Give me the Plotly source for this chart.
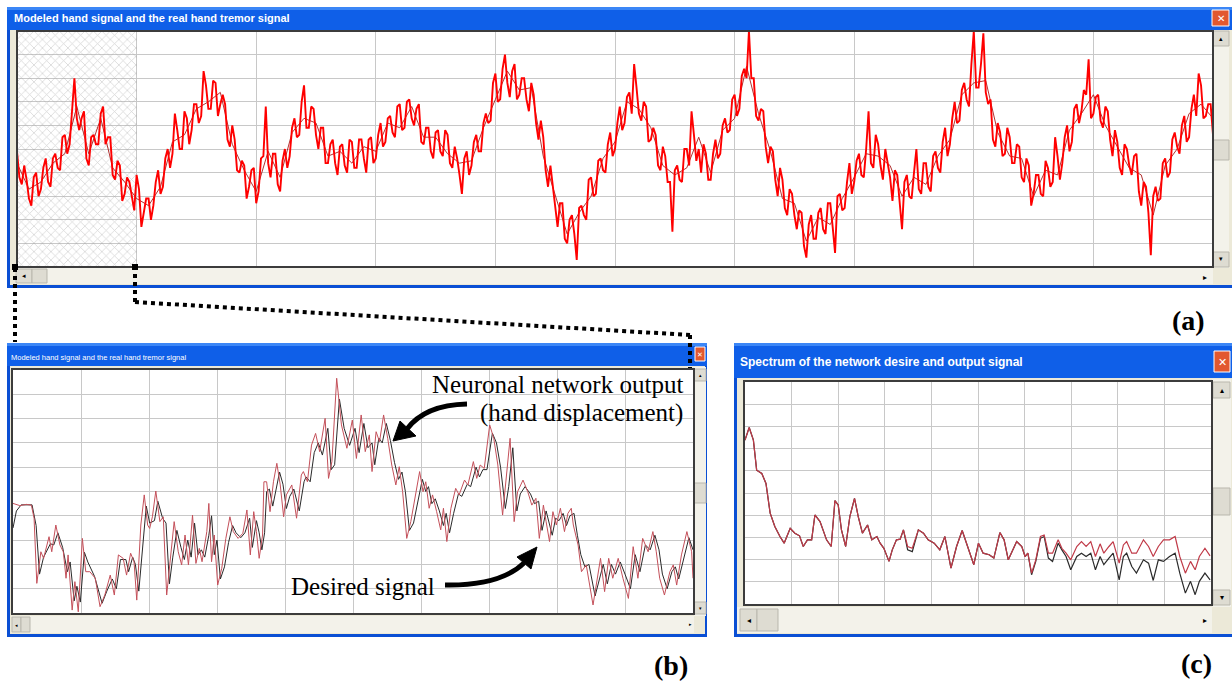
import numpy as np
import plotly.graph_objects as go

W, H = 1232, 683

# ---------------- data (grid units 0..10 on every panel) ----------------
# (a) long record: modeled hand signal (red), samples at 0, 0.04, 0.08, ...
TOP_STEP = 0.04
TOP_RED = [
    4.9,3.5,3.7,2.6,4.0,3.3,4.6,3.4,4.8,4.1,5.6,5.2,8.0,5.8,6.6,4.3,5.6,5.2,6.8,5.5,3.9,4.5,2.8,3.8,2.9,
    3.9,1.7,2.9,2.0,3.6,3.1,4.6,4.2,6.5,5.0,6.6,5.2,6.9,6.1,8.3,6.7,7.9,6.4,7.3,5.4,6.0,4.1,4.5,2.9,4.1,
    2.7,4.6,6.8,3.8,4.8,3.2,5.0,4.7,6.3,5.6,7.7,5.9,6.7,5.0,5.9,4.4,5.4,3.9,5.2,4.0,5.3,4.2,5.4,4.0,5.5,
    4.6,6.1,5.3,6.4,5.5,6.9,5.9,7.1,6.0,6.9,5.2,5.9,4.6,5.8,4.7,5.6,4.2,4.6,3.1,4.9,4.3,5.6,4.9,6.5,6.2,
    8.2,7.1,9.0,7.2,8.6,7.3,8.0,6.6,7.3,5.4,5.5,3.4,3.5,1.7,2.7,1.0,2.2,0.3,2.6,2.0,3.8,3.1,4.6,4.0,5.7,
    5.0,6.8,6.1,7.4,8.6,6.5,7.0,5.3,5.9,4.3,5.1,3.6,1.5,4.3,3.6,5.0,6.6,4.5,4.0,4.8,3.7,5.4,4.8,6.3,5.8,
    7.3,6.7,8.4,10.0,8.0,6.2,6.6,4.4,4.9,3.0,3.7,2.2,3.1,1.6,2.3,0.4,2.2,1.2,2.5,1.4,2.7,0.6,3.1,2.5,4.4,
    3.6,4.8,3.8,6.6,4.2,5.2,3.7,4.4,2.8,3.9,1.6,3.9,2.9,5.0,3.1,4.4,3.2,4.9,4.0,5.9,5.2,7.0,6.2,7.8,6.8,
    10.0,7.6,9.9,6.9,5.4,6.1,4.7,5.9,4.4,5.2,3.8,4.6,2.6,3.9,3.1,4.5,3.4,5.5,3.7,5.5,4.9,6.7,6.1,7.5,8.8,
    6.5,7.3,5.9,6.6,4.7,5.3,3.9,5.0,3.9,4.8,2.6,3.4,0.5,3.4,2.9,4.6,4.0,5.7,4.8,6.4,5.5,7.3,8.2,6.3,6.9,
    5.6,
]
# (a) modeled hand signal, in-between samples at 0.02, 0.06, 0.10, ...
TOP_RED_MID = [
    3.8,4.3,2.9,3.8,3.0,4.2,3.6,4.6,4.2,5.5,4.8,6.5,6.3,6.3,4.6,5.5,5.2,6.5,5.2,5.5,3.7,4.3,3.1,3.6,2.4,
    3.3,2.3,2.9,2.6,4.1,3.4,5.0,4.8,5.8,5.0,6.3,5.8,6.9,6.4,7.7,6.7,7.8,6.9,6.9,5.1,5.4,4.0,4.3,3.4,4.2,
    3.2,4.7,4.4,4.8,3.5,4.5,4.2,5.9,5.5,7.0,5.9,6.8,5.6,5.9,4.4,5.2,4.4,5.1,4.3,5.4,4.2,5.4,4.6,5.4,4.4,
    5.6,5.1,6.3,5.7,6.8,5.8,7.0,6.3,6.7,5.3,5.9,4.9,5.7,4.9,5.8,4.4,5.1,3.9,4.6,3.9,5.3,4.9,6.1,6.1,7.8,
    7.0,8.4,7.8,8.3,7.1,8.0,7.1,7.8,6.1,6.2,4.1,4.3,2.6,2.7,1.2,2.0,1.4,2.5,2.2,3.7,3.0,4.5,4.1,5.2,4.7,
    6.1,5.8,7.2,6.5,7.6,6.2,6.8,5.4,5.6,4.1,4.7,3.6,4.1,3.7,5.0,4.3,5.6,5.0,5.2,3.7,4.8,4.6,6.0,5.7,7.1,
    6.4,8.1,8.0,8.0,6.4,6.7,5.1,5.1,3.7,4.2,2.5,3.3,2.2,2.4,0.9,1.8,1.2,2.3,1.6,2.7,1.7,3.0,2.4,3.6,3.1,
    4.5,3.9,5.0,4.4,5.6,4.3,5.0,3.8,4.1,2.7,3.6,3.0,4.0,3.3,4.4,3.4,4.7,4.2,5.3,4.7,6.3,6.1,7.5,7.1,8.6,
    7.6,8.6,7.4,7.1,5.1,5.7,4.8,5.5,4.4,5.1,3.6,4.3,3.1,3.9,3.0,4.2,3.6,4.7,4.4,6.0,5.3,6.9,6.6,7.3,6.3,
    7.2,6.2,6.8,5.4,5.8,4.2,5.2,4.3,4.7,3.2,3.6,2.3,3.0,2.8,4.4,3.8,5.4,5.1,6.0,5.3,6.7,6.4,7.7,6.4,6.9,
]
# (a) real hand tremor signal (dark red) sampled every 0.1 grid units
DARK_STEP = 0.1
TOP_DARK = [
    4.4,3.3,3.6,4.4,4.8,6.8,4.8,6.3,4.2,3.6,
    2.9,2.6,3.4,5.3,5.6,6.7,7.0,7.4,5.2,4.1,
    3.2,4.9,3.8,5.7,6.3,6.1,4.7,4.9,4.4,5.1,
    4.9,6.1,5.9,6.8,5.5,5.5,4.8,4.4,4.5,5.9,
    7.1,8.3,7.5,7.6,4.7,3.1,1.4,2.3,3.0,4.6,
    5.3,7.0,6.7,5.9,4.3,3.9,4.2,5.5,4.0,5.8,
    6.3,8.5,6.5,4.9,2.9,2.7,1.1,2.1,1.8,2.9,
    3.8,4.8,4.7,4.3,3.0,3.8,3.5,4.7,5.4,7.3,
    7.8,7.9,5.7,4.7,4.6,3.0,4.1,3.9,5.8,6.5,
    7.3,6.0,5.1,4.2,3.9,2.2,4.3,5.0,6.5,6.9,
    6.3,
]
HATCH_SPAN = [0.0, 1.0]

# (b) zoom: neuronal network output (red) and desired signal (black)
B_OUT_X = [0.00,0.10,0.20,0.27,0.31,0.35,0.41,0.45,0.53,0.57,0.63,0.69,0.74,0.78,0.81,0.87,0.91,0.96,
           1.02,1.07,1.13,1.21,1.28,1.35,1.43,1.49,1.55,1.62,1.67,1.73,1.78,1.82,1.88,1.93,1.98,
           2.01,2.05,2.10,2.16,2.21,2.26,2.31,2.37,2.43,2.48,2.53,2.58,2.64,2.69,2.74,2.78,2.85,2.88,2.92,2.96,
           3.01,3.07,3.13,3.19,3.24,3.31,3.38,3.44,3.49,3.54,3.58,3.62,3.67,3.69,3.73,3.78,3.83,3.88,3.93,3.98,
           4.02,4.10,4.17,4.24,4.27,4.33,4.39,4.45,4.51,4.59,4.64,4.69,4.76,4.83,4.91,4.99,
           5.05,5.12,5.18,5.24,5.28,5.34,5.39,5.45,5.51,5.57,5.63,5.68,5.73,5.79,5.85,5.93,5.98,
           6.03,6.07,6.12,6.17,6.23,6.29,6.33,6.38,6.44,6.51,6.56,6.64,6.69,6.77,6.82,6.87,6.93,
           7.01,7.07,7.13,7.20,7.25,7.31,7.37,7.42,7.50,7.57,7.63,7.69,7.74,7.80,7.84,7.89,7.94,7.99,
           8.05,8.11,8.16,8.21,8.24,8.31,8.36,8.43,8.53,8.58,8.64,8.70,8.76,8.82,8.90,8.97,
           9.05,9.12,9.19,9.26,9.34,9.41,9.46,9.51,9.58,9.66,9.71,9.76,9.83,9.91,9.98,10.0]
B_OUT_Y = [4.51,4.42,4.47,4.44,3.90,1.22,2.52,2.25,3.14,2.52,3.62,2.80,2.52,1.43,2.39,0.12,1.29,0.05,
           3.07,1.70,1.70,1.43,0.26,0.74,1.56,0.74,2.39,2.25,1.56,2.46,2.11,0.53,3.62,4.86,3.62,
           3.48,3.96,5.02,3.76,3.96,0.74,2.25,3.76,2.52,1.98,3.21,1.98,4.03,2.04,2.66,2.11,3.35,4.51,2.11,3.21,
           1.15,1.84,3.07,3.96,3.35,3.07,3.28,4.24,2.39,4.17,3.35,2.25,3.21,5.40,5.40,4.17,5.40,6.16,5.27,3.96,
           4.86,5.27,3.90,5.68,5.82,5.40,6.91,7.39,6.64,8.01,5.54,6.23,9.66,7.74,6.78,7.94,
           6.36,8.15,6.64,7.33,5.82,7.46,7.05,8.15,7.19,6.09,5.27,6.02,4.99,3.07,3.76,4.99,5.82,
           4.99,5.40,4.31,4.86,4.17,3.42,4.31,2.94,4.31,5.13,4.86,5.47,5.27,6.23,5.54,6.09,5.95,
           7.74,7.19,6.09,4.03,5.40,7.19,3.76,4.99,5.47,4.99,4.44,4.72,3.07,4.44,3.76,2.94,4.17,3.62,
           4.31,3.35,4.10,4.31,3.62,2.80,1.70,1.98,0.33,1.15,2.25,0.88,2.25,1.43,2.25,1.43,
           0.60,2.73,1.43,3.07,2.52,3.35,2.52,1.43,0.74,1.70,1.98,1.15,2.39,3.35,2.52,1.43]
B_DES_X = [0.00,0.05,0.12,0.28,0.34,0.39,0.45,0.55,0.60,0.66,0.73,0.80,0.84,0.90,0.94,0.99,
           1.05,1.10,1.20,1.31,1.38,1.46,1.52,1.58,1.66,1.70,1.76,1.80,1.85,1.92,1.96,
           2.01,2.08,2.13,2.20,2.25,2.30,2.35,2.41,2.47,2.52,2.57,2.62,2.67,2.72,2.77,2.82,2.88,2.92,2.96,
           3.00,3.05,3.11,3.17,3.23,3.28,3.35,3.41,3.48,3.52,3.58,3.62,3.66,3.70,3.73,3.77,3.82,3.87,3.92,3.97,
           4.02,4.07,4.13,4.21,4.28,4.31,4.37,4.43,4.49,4.55,4.63,4.68,4.73,4.80,4.87,4.95,
           5.03,5.09,5.16,5.22,5.28,5.32,5.38,5.43,5.49,5.55,5.61,5.67,5.72,5.77,5.83,5.89,5.97,
           6.02,6.07,6.11,6.16,6.21,6.27,6.33,6.37,6.42,6.48,6.55,6.60,6.68,6.73,6.81,6.86,6.91,6.97,
           7.05,7.11,7.17,7.24,7.29,7.35,7.41,7.46,7.53,7.61,7.67,7.73,7.78,7.84,7.88,7.93,7.98,
           8.03,8.09,8.14,8.19,8.25,8.30,8.35,8.41,8.47,8.56,8.62,8.68,8.74,8.80,8.86,8.93,
           9.00,9.08,9.15,9.22,9.30,9.37,9.44,9.50,9.55,9.62,9.69,9.74,9.79,9.86,9.94,10.0]
B_DES_Y = [3.50,4.20,4.45,4.45,3.60,1.60,2.30,2.85,2.80,3.30,2.70,1.70,2.10,0.50,1.10,0.45,
           2.50,2.10,1.50,0.40,0.90,1.40,1.00,2.20,2.20,1.70,2.30,2.00,0.90,3.30,4.40,
           3.70,3.80,4.60,3.90,3.70,1.20,2.30,3.40,2.70,2.20,3.00,2.30,3.70,2.40,2.60,2.30,3.20,4.00,2.40,
           3.00,1.40,1.90,2.90,3.60,3.30,3.10,3.30,3.90,2.70,3.80,3.30,2.60,3.30,5.00,5.10,4.40,5.10,5.80,5.30,
           4.30,4.80,5.10,4.20,5.40,5.60,5.40,6.60,7.00,6.50,7.60,5.90,6.10,8.80,7.60,6.90,
           7.60,6.60,7.80,6.80,7.00,6.10,7.20,7.00,7.80,7.10,6.20,5.50,5.80,5.00,3.40,3.70,4.90,
           5.50,5.00,5.20,4.50,4.70,4.20,3.60,4.10,3.30,4.10,4.90,4.80,5.30,5.20,6.00,5.60,5.90,5.90,
           7.40,7.00,6.00,4.30,5.20,6.80,4.20,4.90,5.20,4.90,4.50,4.60,3.40,4.20,3.70,3.20,3.90,
           3.80,4.10,3.60,4.00,4.10,3.20,2.40,1.90,2.00,0.70,1.30,2.00,1.20,2.00,1.60,2.10,
           1.60,1.00,2.40,1.70,2.80,2.60,3.20,2.60,1.60,1.00,1.70,1.90,1.40,2.20,3.10,2.60]

# (c) spectrum of the desired (black) and output (red) signals
C_X = [0.00,0.09,0.18,0.25,0.36,0.45,0.54,0.64,0.75,0.84,0.97,1.07,1.17,1.25,1.34,1.43,1.50,1.61,1.75,1.85,
       1.93,2.00,2.07,2.16,2.25,2.35,2.43,2.52,2.63,2.72,2.83,2.90,2.98,3.09,3.16,3.25,3.33,3.40,3.49,3.59,
       3.72,3.83,3.93,4.06,4.18,4.29,4.42,4.54,4.66,4.77,4.91,5.01,5.11,5.24,5.34,5.47,5.56,5.65,5.74,5.83,
       5.94,6.01,6.07,6.15,6.24,6.34,6.42,6.51,6.60,6.72,6.80,6.89,6.99,7.12,7.22,7.32,7.42,7.52,7.62,7.70,
       7.81,7.90,8.03,8.12,8.19,8.30,8.40,8.55,8.66,8.76,8.87,8.98,9.11,9.23,9.33,9.45,9.56,9.66,9.75,9.87,9.98]
C_OUT_Y = [7.38,7.95,7.38,6.03,5.88,5.43,4.09,3.49,3.04,2.74,3.41,3.19,3.07,2.59,2.89,2.89,4.01,3.71,2.89,2.59,
           4.66,4.46,3.34,2.59,3.94,4.76,3.94,3.19,3.56,2.89,3.04,2.74,2.51,1.92,2.44,2.89,2.92,3.34,2.59,2.51,
           3.34,3.19,2.89,2.74,2.44,3.04,1.62,2.59,3.31,2.59,1.77,2.74,2.29,2.22,2.07,3.22,2.89,1.99,2.44,2.81,
           2.59,2.14,2.29,1.39,1.99,3.04,3.11,2.29,2.29,2.89,2.51,2.29,1.99,2.59,2.81,2.59,2.81,2.14,2.71,2.29,
           2.59,2.81,1.84,2.66,2.81,2.29,2.29,2.89,2.59,2.14,2.59,2.89,2.89,3.04,2.14,1.39,1.92,1.54,2.14,2.51,2.17]
C_DES_Y = [7.38,7.95,7.38,6.03,5.88,5.43,4.09,3.49,3.04,2.74,3.41,3.19,3.07,2.59,2.89,2.89,4.01,3.71,2.89,2.59,
           4.66,4.46,3.34,2.59,3.94,4.76,3.94,3.19,3.56,2.89,3.04,2.74,2.51,1.92,2.44,2.89,2.92,3.34,2.44,2.36,
           3.34,3.19,2.89,2.74,2.44,3.04,1.62,2.59,3.31,2.59,1.77,2.74,2.29,2.22,2.07,3.22,2.89,1.99,2.44,2.81,
           2.59,2.14,2.29,1.32,1.92,2.96,3.04,2.07,1.92,2.74,2.44,2.14,1.54,2.14,2.29,2.14,2.29,1.54,2.14,1.77,
           2.07,2.29,1.09,2.14,2.29,1.69,1.39,1.99,1.84,1.06,1.99,1.92,2.14,2.29,1.39,0.49,1.02,0.42,1.02,1.39,1.09]

# ---------------- helpers (pixel -> paper) ----------------
def X(px):
    return px / W

def Y(py):
    return 1 - py / H

shapes = []
annotations = []

def rect(x0, y0, x1, y1, fill, line=None, lw=0, layer="below"):
    shapes.append(dict(type="rect", xref="paper", yref="paper",
                       x0=X(x0), x1=X(x1), y0=Y(y1), y1=Y(y0),
                       fillcolor=fill,
                       line=dict(color=line or fill, width=lw),
                       layer=layer))

def line(x0, y0, x1, y1, color, width, dash=None, layer="above"):
    d = dict(type="line", xref="paper", yref="paper",
             x0=X(x0), x1=X(x1), y0=Y(y0), y1=Y(y1),
             line=dict(color=color, width=width), layer=layer)
    if dash:
        d["line"]["dash"] = dash
    shapes.append(d)

def text(s, x, y, size, color="black", family="Liberation Sans", xanchor="left",
         bold=False):
    annotations.append(dict(text=("<b>%s</b>" % s) if bold else s,
                            x=X(x), y=Y(y), xref="paper", yref="paper",
                            xanchor=xanchor, yanchor="middle", showarrow=False,
                            font=dict(size=size, color=color, family=family)))

def path(points_str, color, width, fill=None):
    shapes.append(dict(type="path", xref="paper", yref="paper", path=points_str,
                       line=dict(color=color, width=width),
                       fillcolor=fill if fill else "rgba(0,0,0,0)", layer="above"))

def pp(x, y):
    return "%.5f,%.5f" % (X(x), Y(y))

FRAME = "#0a4fd4"
TITLE = "#0f5fe8"
TITLE_HI = "#3b86f6"
BODY = "#ece9d8"
TRACK = "#f3f2ea"
BTN = "#dedcd2"
BTN_LINE = "#b9b7ad"

def window(x0, y0, x1, y1, title_h):
    rect(x0, y0, x1, y1, FRAME)
    rect(x0 + 3, y0 + title_h, x1 - 2, y1 - 3, BODY)
    rect(x0, y0, x1, y0 + title_h, TITLE)
    rect(x0, y0, x1, y0 + 3, TITLE_HI)

def closebtn(x0, y0, x1, y1, size):
    rect(x0, y0, x1, y1, "#e2582f", "#ffffff", 1, layer="above")
    text("\u2715", (x0 + x1) / 2, (y0 + y1) / 2 + 0.5, size, "white", "DejaVu Sans", "center")

def arrowbtn(x0, y0, x1, y1, glyph, size=7):
    rect(x0, y0, x1, y1, BTN, BTN_LINE, 1, layer="above")
    text(glyph, (x0 + x1) / 2, (y0 + y1) / 2, size, "black", "DejaVu Sans", "center")

PLOT_A = (17, 31, 1213, 267)
PLOT_B = (12, 369, 694, 614)
PLOT_C = (744, 381, 1212, 605)

# ---------------- window (a) ----------------
window(7, 7, 1234, 288, 23)
text("Modeled hand signal and the real hand tremor signal", 12, 18, 11, "white", bold=True)
closebtn(1212, 10, 1229, 26, 10)
rect(15, 268, 1213, 284, TRACK, layer="below")
arrowbtn(16, 269, 32, 283, "\u25c2")
rect(32, 269, 47, 283, BTN, BTN_LINE, 1, layer="above")
text("\u25b8", 1205, 277, 8, "black", "DejaVu Sans", "center")
rect(1213, 30, 1229, 268, TRACK, layer="below")
arrowbtn(1213, 31, 1229, 46, "\u25b4")
rect(1213, 140, 1229, 160, BTN, BTN_LINE, 1, layer="above")
arrowbtn(1213, 252, 1229, 267, "\u25be")

# ---------------- window (b) ----------------
window(7, 343, 707, 637, 23)
text("Modeled hand signal and the real hand tremor signal", 9, 357, 7.5, "white")
closebtn(695, 347, 705, 361, 7)
rect(12, 616, 694, 633, TRACK)
arrowbtn(12, 617, 21, 632, "\u25c2", 5)
rect(21, 617, 30, 632, BTN, BTN_LINE, 1, layer="above")
text("\u25b8", 690, 624, 5, "black", "DejaVu Sans", "center")
rect(694, 367, 706, 616, TRACK)
arrowbtn(694, 369, 706, 381, "\u25b4", 5)
rect(694, 483, 706, 503, BTN, BTN_LINE, 1, layer="above")
arrowbtn(694, 602, 706, 614, "\u25be", 5)

# ---------------- window (c) ----------------
window(734, 343, 1234, 637, 35)
text("Spectrum of the network desire and output signal", 738, 362, 12, "white", bold=True)
closebtn(1214, 351, 1230, 372, 11)
rect(737, 607, 1212, 633, TRACK)
arrowbtn(740, 609, 757, 631, "\u25c2", 8)
rect(757, 609, 778, 631, BTN, BTN_LINE, 1, layer="above")
text("\u25b8", 1205, 620, 8, "black", "DejaVu Sans", "center")
rect(1212, 379, 1231, 607, TRACK)
arrowbtn(1213, 382, 1230, 398, "\u25b4", 8)
rect(1213, 488, 1230, 515, BTN, BTN_LINE, 1, layer="above")
arrowbtn(1213, 590, 1230, 605, "\u25be", 8)

# white plot areas + sunken frames
for (x0, y0, x1, y1) in [PLOT_A, PLOT_B, PLOT_C]:
    rect(x0, y0, x1, y1, "white", layer="below")
    rect(x0, y0, x1, y1, "rgba(0,0,0,0)", "#3c3c3c", 2, layer="above")

# ---------------- dotted connectors ----------------
DOT = "4px,4px"
line(15, 268, 15, 342, "black", 4, DOT)
line(135, 266, 135, 302, "black", 4, DOT)
line(135, 302, 690, 335, "black", 4, DOT)
line(690, 335, 690, 368, "black", 4, DOT)
for (cx, cy) in [(15, 267), (135, 267)]:
    rect(cx - 3, cy - 3, cx + 3, cy + 3, "black", layer="above")

# ---------------- annotation arrows & labels in (b) ----------------
path("M " + pp(467, 404) + " Q " + pp(425, 405) + " " + pp(407, 429), "black", 5)
path("M " + pp(393, 441) + " L " + pp(400, 421) + " L " + pp(416, 436) + " Z", "black", 1, "black")
path("M " + pp(445, 585) + " Q " + pp(500, 586) + " " + pp(524, 563), "black", 5)
path("M " + pp(537, 547) + " L " + pp(517, 557) + " L " + pp(531, 569) + " Z", "black", 1, "black")

SERIF = "Liberation Serif"
text("Neuronal network output", 685, 384, 25, "black", SERIF, "right")
text("(hand displacement)", 685, 413, 25, "black", SERIF, "right")
text("Desired signal", 289, 586, 25, "black", SERIF, "left")
text("(a)", 1188, 320, 28, "black", SERIF, "center", bold=True)
text("(b)", 671, 665, 28, "black", SERIF, "center", bold=True)
text("(c)", 1196, 663, 28, "black", SERIF, "center", bold=True)

# ---------------- figure ----------------
fig = go.Figure()

xa = np.arange(len(TOP_RED)) * TOP_STEP
xb = np.arange(len(TOP_RED_MID)) * TOP_STEP + TOP_STEP / 2
order = np.argsort(np.concatenate([xa, xb]), kind="stable")
red_x = np.concatenate([xa, xb])[order]
red_y = np.concatenate([np.array(TOP_RED), np.array(TOP_RED_MID)])[order]
dark_x = np.arange(len(TOP_DARK)) * DARK_STEP

fig.add_trace(go.Bar(x=[(HATCH_SPAN[0] + HATCH_SPAN[1]) / 2], y=[10], base=0,
                     width=[HATCH_SPAN[1] - HATCH_SPAN[0]],
                     marker=dict(color="rgba(0,0,0,0)", line=dict(width=0),
                                 pattern=dict(shape="x", fgcolor="#a4a4a4",
                                              bgcolor="rgba(0,0,0,0)", size=6, solidity=0.22)),
                     xaxis="x", yaxis="y", hoverinfo="skip"))
fig.add_trace(go.Scatter(x=dark_x, y=TOP_DARK, mode="lines",
                         line=dict(color="#a00000", width=1.0), opacity=0.8,
                         xaxis="x", yaxis="y"))
fig.add_trace(go.Scatter(x=red_x, y=red_y, mode="lines",
                         line=dict(color="#ff0000", width=1.9), xaxis="x", yaxis="y"))

fig.add_trace(go.Scatter(x=B_DES_X, y=B_DES_Y, mode="lines",
                         line=dict(color="#2a2a2a", width=1), xaxis="x2", yaxis="y2"))
fig.add_trace(go.Scatter(x=B_OUT_X, y=B_OUT_Y, mode="lines",
                         line=dict(color="#c4505a", width=1), xaxis="x2", yaxis="y2"))

fig.add_trace(go.Scatter(x=C_X, y=C_DES_Y, mode="lines",
                         line=dict(color="#2a2a2a", width=1.2), xaxis="x3", yaxis="y3"))
fig.add_trace(go.Scatter(x=C_X, y=C_OUT_Y, mode="lines",
                         line=dict(color="#c03a48", width=1.2), xaxis="x3", yaxis="y3"))

def axis(d0, d1, anchor):
    return dict(domain=[d0, d1], range=[0, 10], dtick=1, tick0=0, showgrid=True,
                gridcolor="#c8c8c8", gridwidth=1, showticklabels=False, ticks="",
                zeroline=False, showline=False, fixedrange=True, anchor=anchor)

fig.update_layout(
    width=W, height=H, margin=dict(l=0, r=0, t=0, b=0),
    paper_bgcolor="white", plot_bgcolor="white", showlegend=False,
    xaxis=axis(X(17), X(1213), "y"), yaxis=axis(Y(267), Y(31), "x"),
    xaxis2=axis(X(13), X(693), "y2"), yaxis2=axis(Y(613), Y(370), "x2"),
    xaxis3=axis(X(745), X(1211), "y3"), yaxis3=axis(Y(604), Y(382), "x3"),
    shapes=shapes, annotations=annotations, bargap=0,
)

fig.write_html("out.html")
